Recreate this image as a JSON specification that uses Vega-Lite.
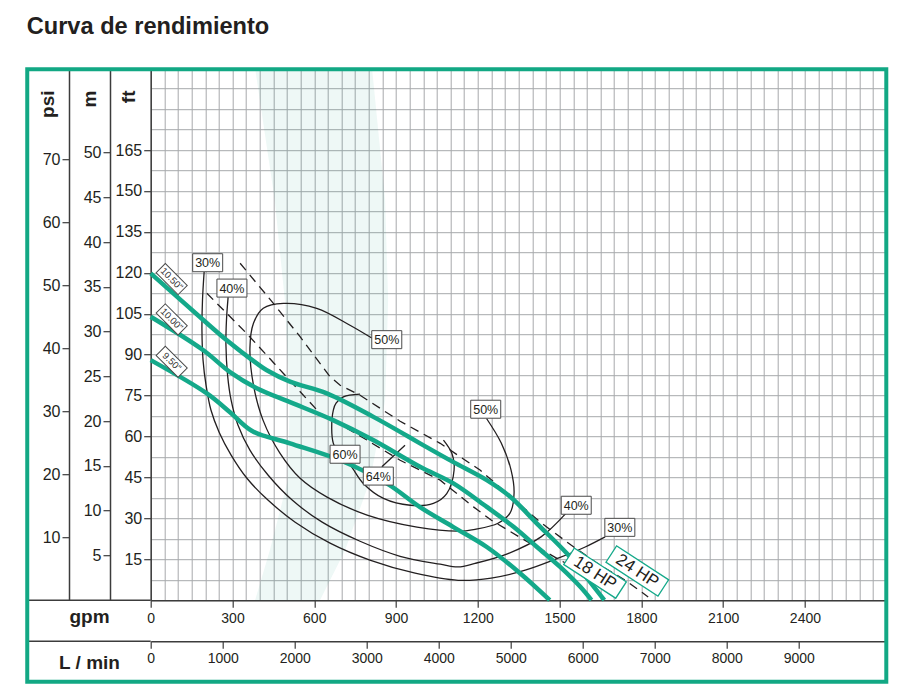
{
  "$schema": "https://vega.github.io/schema/vega-lite/v6.json",
  "width": 736,
  "height": 532,
  "autosize": {"type": "none"},
  "padding": {"left": 150.7, "top": 68.2, "right": 29.3, "bottom": 99.8},
  "background": "white",
  "title": {"text": "Curva de rendimiento", "anchor": "start", "frame": "group", "dx": -124, "offset": 9.5, "fontSize": 23.6, "fontWeight": "bold", "color": "#231f20", "font": "Liberation Sans", "baseline": "alphabetic"},
  "config": {
    "view": {"stroke": null},
    "font": "Liberation Sans",
    "axis": {"labelFont": "Liberation Sans", "titleFont": "Liberation Sans", "labelColor": "#231f20", "titleColor": "#231f20", "domainColor": "#3c3c3c", "domainWidth": 1.5, "tickColor": "#3c3c3c", "tickWidth": 1.2}
  },
  "datasets": {
    "band": [
      {"ft": 195, "g1": 383, "g2": 812},
      {"ft": 146.7, "g1": 455, "g2": 860},
      {"ft": 110, "g1": 492, "g2": 871},
      {"ft": 73.3, "g1": 510, "g2": 860},
      {"ft": 44, "g1": 503, "g2": 805},
      {"ft": 18.3, "g1": 437, "g2": 713},
      {"ft": 0, "g1": 383, "g2": 621}
    ],
    "eff": [
      {"e":"30","o":0,"gpm":196,"ft":120.3},{"e":"30","o":1,"gpm":190,"ft":110.0},{"e":"30","o":2,"gpm":188,"ft":99.0},{"e":"30","o":3,"gpm":192,"ft":88.0},{"e":"30","o":4,"gpm":203,"ft":78.8},{"e":"30","o":5,"gpm":221,"ft":69.7},{"e":"30","o":6,"gpm":251,"ft":61.6},{"e":"30","o":7,"gpm":295,"ft":53.2},{"e":"30","o":8,"gpm":353,"ft":44.7},{"e":"30","o":9,"gpm":430,"ft":36.7},{"e":"30","o":10,"gpm":530,"ft":28.6},{"e":"30","o":11,"gpm":658,"ft":20.9},{"e":"30","o":12,"gpm":804,"ft":14.7},{"e":"30","o":13,"gpm":970,"ft":9.9},{"e":"30","o":14,"gpm":1128,"ft":7.3},{"e":"30","o":15,"gpm":1249,"ft":8.1},{"e":"30","o":16,"gpm":1374,"ft":11.0},{"e":"30","o":17,"gpm":1495,"ft":15.4},{"e":"30","o":18,"gpm":1594,"ft":19.5},{"e":"30","o":19,"gpm":1667,"ft":23.2},
      {"e":"40","o":0,"gpm":284,"ft":111.1},{"e":"40","o":1,"gpm":278,"ft":102.7},{"e":"40","o":2,"gpm":276,"ft":93.5},{"e":"40","o":3,"gpm":282,"ft":82.5},{"e":"40","o":4,"gpm":295,"ft":73.3},{"e":"40","o":5,"gpm":320,"ft":64.2},{"e":"40","o":6,"gpm":364,"ft":55.0},{"e":"40","o":7,"gpm":431,"ft":45.8},{"e":"40","o":8,"gpm":519,"ft":36.7},{"e":"40","o":9,"gpm":629,"ft":28.6},{"e":"40","o":10,"gpm":768,"ft":21.6},{"e":"40","o":11,"gpm":915,"ft":16.1},{"e":"40","o":12,"gpm":1062,"ft":13.2},{"e":"40","o":13,"gpm":1128,"ft":12.2},{"e":"40","o":14,"gpm":1190,"ft":13.5},{"e":"40","o":15,"gpm":1311,"ft":17.1},{"e":"40","o":16,"gpm":1432,"ft":23.2},{"e":"40","o":17,"gpm":1524,"ft":31.9},
      {"e":"50","o":0,"gpm":811,"ft":96.1},{"e":"50","o":1,"gpm":731,"ft":100.8},{"e":"50","o":2,"gpm":609,"ft":107.0},{"e":"50","o":3,"gpm":487,"ft":108.8},{"e":"50","o":4,"gpm":413,"ft":107.0},{"e":"50","o":5,"gpm":377,"ft":101.5},{"e":"50","o":6,"gpm":364,"ft":92.4},{"e":"50","o":7,"gpm":377,"ft":78.8},{"e":"50","o":8,"gpm":412,"ft":66.0},{"e":"50","o":9,"gpm":474,"ft":53.9},{"e":"50","o":10,"gpm":548,"ft":44.7},{"e":"50","o":11,"gpm":647,"ft":37.8},{"e":"50","o":12,"gpm":794,"ft":31.2},{"e":"50","o":13,"gpm":977,"ft":26.8},{"e":"50","o":14,"gpm":1128,"ft":25.3},{"e":"50","o":15,"gpm":1190,"ft":26.0},{"e":"50","o":16,"gpm":1274,"ft":28.2},{"e":"50","o":17,"gpm":1318,"ft":31.9},{"e":"50","o":18,"gpm":1333,"ft":39.2},{"e":"50","o":19,"gpm":1322,"ft":47.7},{"e":"50","o":20,"gpm":1286,"ft":57.6},{"e":"50","o":21,"gpm":1232,"ft":66.6},
      {"e":"60","o":0,"gpm":768,"ft":75.5},{"e":"60","o":1,"gpm":707,"ft":74.5},{"e":"60","o":2,"gpm":680,"ft":72.2},{"e":"60","o":3,"gpm":670,"ft":69.7},{"e":"60","o":4,"gpm":664,"ft":63.0},{"e":"60","o":5,"gpm":670,"ft":57.5},{"e":"60","o":6,"gpm":695,"ft":53.2},{"e":"60","o":7,"gpm":732,"ft":49.5},{"e":"60","o":8,"gpm":780,"ft":42.8},{"e":"60","o":9,"gpm":854,"ft":37.3},{"e":"60","o":10,"gpm":952,"ft":34.8},{"e":"60","o":11,"gpm":1037,"ft":35.5},{"e":"60","o":12,"gpm":1086,"ft":39.1},{"e":"60","o":13,"gpm":1113,"ft":47.7},{"e":"60","o":14,"gpm":1105,"ft":53.8},{"e":"60","o":15,"gpm":1074,"ft":58.7},
      {"e":"64","o":0,"gpm":848,"ft":48.9},{"e":"64","o":1,"gpm":933,"ft":56.8}
    ],
    "hp": [
      {"h":"24","o":0,"gpm":328,"ft":123.5},{"h":"24","o":1,"gpm":450,"ft":108.8},{"h":"24","o":2,"gpm":548,"ft":96.6},{"h":"24","o":3,"gpm":658,"ft":81.9},{"h":"24","o":4,"gpm":695,"ft":78.8},{"h":"24","o":5,"gpm":768,"ft":75.1},{"h":"24","o":6,"gpm":915,"ft":65.6},{"h":"24","o":7,"gpm":1062,"ft":57.5},{"h":"24","o":8,"gpm":1208,"ft":47.7},{"h":"24","o":9,"gpm":1319,"ft":38.1},{"h":"24","o":10,"gpm":1429,"ft":28.6},{"h":"24","o":11,"gpm":1542,"ft":20.2},{"h":"24","o":12,"gpm":1649,"ft":12.8},{"h":"24","o":13,"gpm":1741,"ft":7.3},{"h":"24","o":14,"gpm":1825,"ft":1.2},
      {"h":"18","o":0,"gpm":206,"ft":112.5},{"h":"18","o":1,"gpm":352,"ft":97.8},{"h":"18","o":2,"gpm":487,"ft":83.1},{"h":"18","o":3,"gpm":621,"ft":68.5},{"h":"18","o":4,"gpm":676,"ft":65.6},{"h":"18","o":5,"gpm":793,"ft":58.7},{"h":"18","o":6,"gpm":915,"ft":51.3},{"h":"18","o":7,"gpm":1062,"ft":44.0},{"h":"18","o":8,"gpm":1184,"ft":34.2},{"h":"18","o":9,"gpm":1250,"ft":29.3},{"h":"18","o":10,"gpm":1372,"ft":22.0},{"h":"18","o":11,"gpm":1502,"ft":14.7},{"h":"18","o":12,"gpm":1576,"ft":10.6}
    ],
    "imp": [
      {"d":"10.50","o":0,"gpm":0,"ft":119.8},{"d":"10.50","o":1,"gpm":193,"ft":102.7},{"d":"10.50","o":2,"gpm":279,"ft":95.3},{"d":"10.50","o":3,"gpm":389,"ft":86.8},{"d":"10.50","o":4,"gpm":426,"ft":84.3},{"d":"10.50","o":5,"gpm":511,"ft":80.1},{"d":"10.50","o":6,"gpm":646,"ft":75.8},{"d":"10.50","o":7,"gpm":817,"ft":67.2},{"d":"10.50","o":8,"gpm":915,"ft":61.7},{"d":"10.50","o":9,"gpm":988,"ft":57.5},{"d":"10.50","o":10,"gpm":1109,"ft":50.7},{"d":"10.50","o":11,"gpm":1233,"ft":44.0},{"d":"10.50","o":12,"gpm":1319,"ft":37.9},{"d":"10.50","o":13,"gpm":1417,"ft":28.1},{"d":"10.50","o":14,"gpm":1527,"ft":17.1},{"d":"10.50","o":15,"gpm":1586,"ft":9.9},{"d":"10.50","o":16,"gpm":1664,"ft":0},
      {"d":"10.00","o":0,"gpm":0,"ft":103.9},{"d":"10.00","o":1,"gpm":192,"ft":91.7},{"d":"10.00","o":2,"gpm":291,"ft":83.6},{"d":"10.00","o":3,"gpm":389,"ft":77.7},{"d":"10.00","o":4,"gpm":511,"ft":72.6},{"d":"10.00","o":5,"gpm":669,"ft":66.0},{"d":"10.00","o":6,"gpm":816,"ft":58.7},{"d":"10.00","o":7,"gpm":988,"ft":48.9},{"d":"10.00","o":8,"gpm":1109,"ft":42.9},{"d":"10.00","o":9,"gpm":1233,"ft":34.2},{"d":"10.00","o":10,"gpm":1331,"ft":26.9},{"d":"10.00","o":11,"gpm":1417,"ft":19.5},{"d":"10.00","o":12,"gpm":1502,"ft":12.2},{"d":"10.00","o":13,"gpm":1576,"ft":4.9},{"d":"10.00","o":14,"gpm":1617,"ft":0},
      {"d":"9.50","o":0,"gpm":0,"ft":88.0},{"d":"9.50","o":1,"gpm":206,"ft":75.8},{"d":"9.50","o":2,"gpm":291,"ft":68.9},{"d":"9.50","o":3,"gpm":372,"ft":62.0},{"d":"9.50","o":4,"gpm":511,"ft":57.5},{"d":"9.50","o":5,"gpm":695,"ft":51.3},{"d":"9.50","o":6,"gpm":866,"ft":42.8},{"d":"9.50","o":7,"gpm":988,"ft":34.1},{"d":"9.50","o":8,"gpm":1109,"ft":26.9},{"d":"9.50","o":9,"gpm":1233,"ft":19.5},{"d":"9.50","o":10,"gpm":1356,"ft":9.8},{"d":"9.50","o":11,"gpm":1464,"ft":0}
    ],
    "pct": [
      {"t":"30%","gpm":209,"ft":123.7},{"t":"40%","gpm":298,"ft":114.4},{"t":"50%","gpm":866,"ft":95.5},{"t":"50%","gpm":1229,"ft":70.0},{"t":"60%","gpm":713,"ft":53.5},{"t":"64%","gpm":835,"ft":45.5},{"t":"40%","gpm":1561,"ft":34.8},{"t":"30%","gpm":1721,"ft":26.7}
    ],
    "dia": [
      {"t":"10.50\"","gpm":77,"ft":117.7},{"t":"10.00\"","gpm":77,"ft":102.9},{"t":"9.50\"","gpm":77,"ft":87.4}
    ],
    "hpl": [
      {"t":"18 HP","gpm":1630,"ft":9.9},{"t":"24 HP","gpm":1785,"ft":10.7}
    ],
    "seps": [{"ft": 0}, {"ft": -15.03}]
  },
  "layer": [
    {
      "data": {"values": [{"ft": 0}]},
      "mark": {"type": "point", "opacity": 0},
      "encoding": {
        "y": {"field": "ft", "type": "quantitative", "scale": {"domain": [0, 195], "nice": false, "zero": false},
          "axis": {"orient": "left", "offset": 0, "title": "ft", "titleAngle": 270, "titleAlign": "right", "titleBaseline": "middle", "titleX": -22, "titleY": 21.8, "titleFontSize": 19, "titleFontWeight": "bold",
            "values": [0,7.5,15,22.5,30,37.5,45,52.5,60,67.5,75,82.5,90,97.5,105,112.5,120,127.5,135,142.5,150,157.5,165,172.5,180,187.5],
            "grid": true, "gridColor": "#a7a9ac", "gridWidth": 1, "format": "d",
            "labelExpr": "datum.value % 15 == 0 && datum.value >= 15 && datum.value <= 165 ? datum.label : ''",
            "labelFontSize": 16, "labelPadding": 2, "labelOverlap": false, "labelFlush": false, "tickSize": 7,
            "tickOpacity": {"condition": {"test": "datum.value % 15 != 0 || datum.value < 15 || datum.value > 165", "value": 0}, "value": 1}}}
      }
    },
    {
      "data": {"values": [{"gpm": 0}]},
      "mark": {"type": "point", "opacity": 0},
      "encoding": {
        "x": {"field": "gpm", "type": "quantitative", "scale": {"domain": [0, 2700], "nice": false, "zero": false},
          "axis": {"orient": "bottom", "offset": 0, "title": "gpm", "titleAngle": 0, "titleAlign": "center", "titleBaseline": "alphabetic", "titleX": -61.7, "titleY": 22.7, "titleFontSize": 19, "titleFontWeight": "bold",
            "values": [0,50,100,150,200,250,300,350,400,450,500,550,600,650,700,750,800,850,900,950,1000,1050,1100,1150,1200,1250,1300,1350,1400,1450,1500,1550,1600,1650,1700,1750,1800,1850,1900,1950,2000,2050,2100,2150,2200,2250,2300,2350,2400,2450,2500,2550,2600,2650,2700],
            "grid": true, "gridColor": "#a7a9ac", "gridWidth": 1, "format": "d",
            "labelExpr": "datum.value % 300 == 0 && datum.value <= 2400 ? datum.label : ''",
            "labelFontSize": 14, "labelBaseline": "middle", "labelPadding": 11, "labelOverlap": false, "labelFlush": false, "tickSize": 7,
            "tickOpacity": {"condition": {"test": "datum.value % 300 != 0 || datum.value > 2400", "value": 0}, "value": 1}}}
      }
    },
    {
      "layer": [
        {
          "data": {"name": "band"},
          "mark": {"type": "area", "orient": "horizontal", "fill": "#0e9e7a", "opacity": 0.07},
          "encoding": {
            "y": {"field": "ft", "type": "quantitative", "scale": {"domain": [0, 195], "nice": false, "zero": false}, "axis": null},
            "x": {"field": "g1", "type": "quantitative", "scale": {"domain": [0, 2700], "nice": false, "zero": false}, "axis": null},
            "x2": {"field": "g2"}
          }
        },
        {
          "data": {"name": "eff"},
          "mark": {"type": "line", "color": "#231f20", "strokeWidth": 1.3, "interpolate": "catmull-rom"},
          "encoding": {
            "x": {"field": "gpm", "type": "quantitative", "scale": {"domain": [0, 2700], "nice": false, "zero": false}, "axis": null},
            "y": {"field": "ft", "type": "quantitative", "scale": {"domain": [0, 195], "nice": false, "zero": false}, "axis": null},
            "detail": {"field": "e"},
            "order": {"field": "o", "type": "quantitative"}
          }
        },
        {
          "data": {"name": "hp"},
          "mark": {"type": "line", "color": "#231f20", "strokeWidth": 1.3, "strokeDash": [9, 6]},
          "encoding": {
            "x": {"field": "gpm", "type": "quantitative", "scale": {"domain": [0, 2700], "nice": false, "zero": false}, "axis": null},
            "y": {"field": "ft", "type": "quantitative", "scale": {"domain": [0, 195], "nice": false, "zero": false}, "axis": null},
            "detail": {"field": "h"},
            "order": {"field": "o", "type": "quantitative"}
          }
        },
        {
          "data": {"name": "imp"},
          "mark": {"type": "line", "color": "#14a98a", "strokeWidth": 4.5, "interpolate": "catmull-rom"},
          "encoding": {
            "x": {"field": "gpm", "type": "quantitative", "scale": {"domain": [0, 2700], "nice": false, "zero": false}, "axis": null},
            "y": {"field": "ft", "type": "quantitative", "scale": {"domain": [0, 195], "nice": false, "zero": false}, "axis": null},
            "detail": {"field": "d"},
            "order": {"field": "o", "type": "quantitative"}
          }
        },
        {
          "data": {"name": "seps"},
          "mark": {"type": "rule", "color": "#3c3c3c", "strokeWidth": 1.5},
          "encoding": {
            "x": {"datum": -452.9, "type": "quantitative", "scale": {"domain": [0, 2700], "nice": false, "zero": false}, "axis": null},
            "x2": {"datum": 0},
            "y": {"field": "ft", "type": "quantitative", "scale": {"domain": [0, 195], "nice": false, "zero": false}, "axis": null}
          }
        },
        {
          "data": {"name": "pct"},
          "mark": {"type": "point", "shape": "M-1.667,-1H1.667V1H-1.667Z", "size": 324, "filled": true, "fill": "white", "stroke": "#4a4a4a", "strokeWidth": 1, "opacity": 1},
          "encoding": {
            "x": {"field": "gpm", "type": "quantitative", "scale": {"domain": [0, 2700], "nice": false, "zero": false}, "axis": null},
            "y": {"field": "ft", "type": "quantitative", "scale": {"domain": [0, 195], "nice": false, "zero": false}, "axis": null}
          }
        },
        {
          "data": {"name": "pct"},
          "mark": {"type": "text", "fontSize": 12.5, "color": "#231f20", "font": "Liberation Sans", "baseline": "middle", "align": "center", "dy": 0.5},
          "encoding": {
            "x": {"field": "gpm", "type": "quantitative", "scale": {"domain": [0, 2700], "nice": false, "zero": false}, "axis": null},
            "y": {"field": "ft", "type": "quantitative", "scale": {"domain": [0, 195], "nice": false, "zero": false}, "axis": null},
            "text": {"field": "t"}
          }
        },
        {
          "data": {"name": "dia"},
          "mark": {"type": "point", "shape": "M-2.385,-1H2.385V1H-2.385Z", "size": 169, "angle": 45, "filled": true, "fill": "white", "stroke": "#4a4a4a", "strokeWidth": 1, "opacity": 1},
          "encoding": {
            "x": {"field": "gpm", "type": "quantitative", "scale": {"domain": [0, 2700], "nice": false, "zero": false}, "axis": null},
            "y": {"field": "ft", "type": "quantitative", "scale": {"domain": [0, 195], "nice": false, "zero": false}, "axis": null}
          }
        },
        {
          "data": {"name": "dia"},
          "mark": {"type": "text", "fontSize": 9.5, "angle": 45, "color": "#333333", "font": "Liberation Sans", "baseline": "middle", "align": "center"},
          "encoding": {
            "x": {"field": "gpm", "type": "quantitative", "scale": {"domain": [0, 2700], "nice": false, "zero": false}, "axis": null},
            "y": {"field": "ft", "type": "quantitative", "scale": {"domain": [0, 195], "nice": false, "zero": false}, "axis": null},
            "text": {"field": "t"}
          }
        },
        {
          "data": {"name": "hpl"},
          "mark": {"type": "point", "shape": "M-3.18,-1H3.18V1H-3.18Z", "size": 380, "angle": 33, "filled": true, "fill": "white", "stroke": "#14a98a", "strokeWidth": 1.3, "opacity": 1},
          "encoding": {
            "x": {"field": "gpm", "type": "quantitative", "scale": {"domain": [0, 2700], "nice": false, "zero": false}, "axis": null},
            "y": {"field": "ft", "type": "quantitative", "scale": {"domain": [0, 195], "nice": false, "zero": false}, "axis": null}
          }
        },
        {
          "data": {"name": "hpl"},
          "mark": {"type": "text", "fontSize": 17, "angle": 33, "color": "#231f20", "font": "Liberation Sans", "baseline": "middle", "align": "center"},
          "encoding": {
            "x": {"field": "gpm", "type": "quantitative", "scale": {"domain": [0, 2700], "nice": false, "zero": false}, "axis": null},
            "y": {"field": "ft", "type": "quantitative", "scale": {"domain": [0, 195], "nice": false, "zero": false}, "axis": null},
            "text": {"field": "t"}
          }
        },
        {
          "data": {"values": [{"k": "frame"}]},
          "mark": {"type": "rect", "fill": null, "fillOpacity": 0, "stroke": "#12a884", "strokeWidth": 4},
          "encoding": {
            "x": {"datum": -452.9, "type": "quantitative", "scale": {"domain": [0, 2700], "nice": false, "zero": false}, "axis": null},
            "x2": {"datum": 2698.5},
            "y": {"datum": -29.87, "type": "quantitative", "scale": {"domain": [0, 195], "nice": false, "zero": false}, "axis": null},
            "y2": {"datum": 194.6}
          }
        }
      ]
    },
    {
      "data": {"values": [{"m": 0}]},
      "mark": {"type": "point", "opacity": 0},
      "encoding": {
        "y": {"field": "m", "type": "quantitative", "scale": {"domain": [0, 59.436], "nice": false, "zero": false},
          "axis": {"orient": "left", "offset": 40.7, "title": "m", "titleAngle": 270, "titleAlign": "right", "titleBaseline": "middle", "titleX": -21, "titleY": 21.8, "titleFontSize": 19, "titleFontWeight": "bold",
            "values": [5,10,15,20,25,30,35,40,45,50], "grid": false, "format": "d", "labelFontSize": 16, "labelPadding": 2, "labelOverlap": false, "labelFlush": false, "tickSize": 7}}
      }
    },
    {
      "data": {"values": [{"psi": 0}]},
      "mark": {"type": "point", "opacity": 0},
      "encoding": {
        "y": {"field": "psi", "type": "quantitative", "scale": {"domain": [0, 84.54], "nice": false, "zero": false},
          "axis": {"orient": "left", "offset": 81.7, "title": "psi", "titleAngle": 270, "titleAlign": "right", "titleBaseline": "middle", "titleX": -22, "titleY": 21.8, "titleFontSize": 19, "titleFontWeight": "bold",
            "values": [10,20,30,40,50,60,70], "grid": false, "format": "d", "labelFontSize": 16, "labelPadding": 2, "labelOverlap": false, "labelFlush": false, "tickSize": 7}}
      }
    },
    {
      "data": {"values": [{"lpm": 0}]},
      "mark": {"type": "point", "opacity": 0},
      "encoding": {
        "x": {"field": "lpm", "type": "quantitative", "scale": {"domain": [0, 10220.6], "nice": false, "zero": false},
          "axis": {"orient": "bottom", "offset": 41, "title": "L / min", "titleAngle": 0, "titleAlign": "center", "titleBaseline": "alphabetic", "titleX": -61.7, "titleY": 27.3, "titleFontSize": 19, "titleFontWeight": "bold",
            "values": [0,1000,2000,3000,4000,5000,6000,7000,8000,9000], "grid": false, "format": "d", "labelFontSize": 14, "labelBaseline": "middle", "labelPadding": 10, "labelOverlap": false, "labelFlush": false, "tickSize": 7}}
      }
    }
  ],
  "resolve": {"scale": {"x": "independent", "y": "independent"}, "axis": {"x": "independent", "y": "independent"}}
}
